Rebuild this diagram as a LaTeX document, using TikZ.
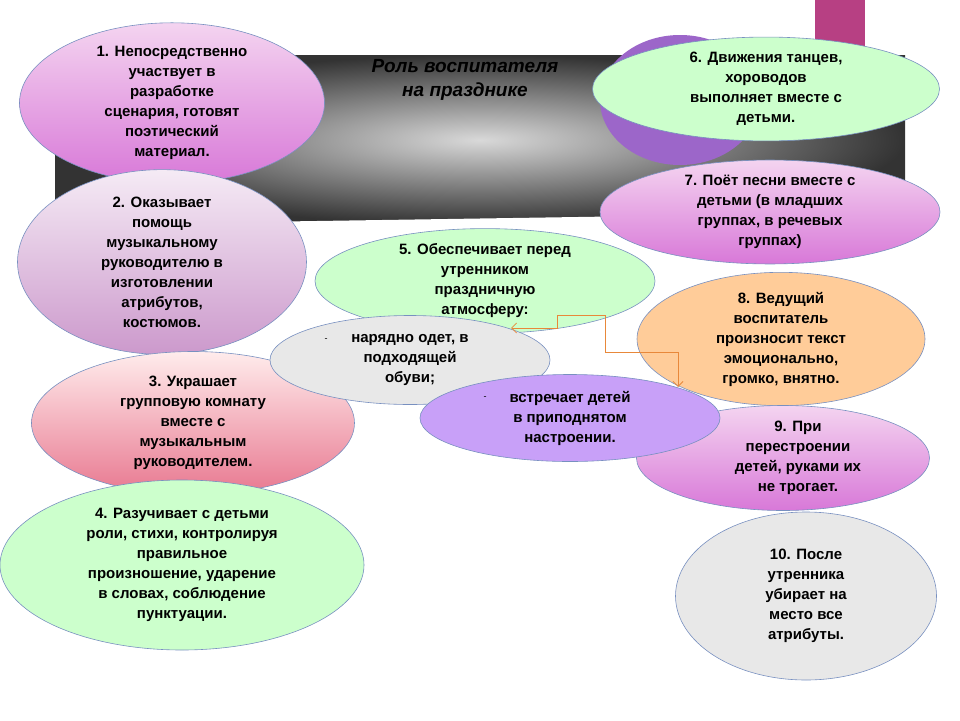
\documentclass[tikz,border=0pt]{standalone}
\usepackage{fontspec}
\setmainfont{Liberation Sans}
\usetikzlibrary{shapes.geometric,arrows.meta}
\definecolor{lgreen}{HTML}{CCFFCC}
\definecolor{lgray}{HTML}{E8E8E8}
\definecolor{edge}{HTML}{7890C0}
\definecolor{conn}{HTML}{E8883A}
\definecolor{pinktop}{HTML}{F4D4F0}
\definecolor{pinkbot}{HTML}{D878D8}
\definecolor{rosebot}{HTML}{E87890}
\definecolor{lilac}{HTML}{C8A0F8}
\tikzset{
  oval/.style={ellipse, draw=edge, line width=0.6pt, align=center,
    font=\fontsize{15}{20}\selectfont\bfseries, inner sep=0pt},
  pinkoval/.style={oval, top color=pinktop, bottom color=pinkbot},
  link/.style={draw=conn, line width=0.8pt, -{Straight Barb[length=5pt,width=10pt]}},
}
\begin{document}
\begin{tikzpicture}[x=1pt,y=-1pt]
\useasboundingbox (0,0) rectangle (960,720);

% background panel
\fill[magenta!70!black!95] (815,0) rectangle (865,58);
\shade[inner color=gray!30, outer color=black!80] (55,55) rectangle (905,225);
\fill[white] (55,225) -- (905,212) -- (905,230) -- (55,230) -- cycle;
\node[align=center, font=\fontsize{19}{24}\selectfont\bfseries\itshape] (title) at (465,80)
  {Роль воспитателя\\на празднике};
\fill[violet!70!blue!60] (680,100) ellipse [x radius=80, y radius=65];

% left column
\node[pinkoval, minimum width=305, minimum height=150] (e1) at (172,103)
  {1. Непосредственно\\участвует в\\разработке\\сценария, готовят\\поэтический\\материал.};
\node[oval, top color=violet!8, bottom color=violet!40, minimum width=289, minimum height=165] (e2) at (162,262)
  {2. Оказывает\\помощь\\музыкальному\\руководителю в\\изготовлении\\атрибутов,\\костюмов.};
\node[oval, top color=pink!30, bottom color=rosebot, minimum width=323, minimum height=143] (e3) at (193,423)
  {3. Украшает\\групповую комнату\\вместе с\\музыкальным\\руководителем.};
\node[oval, fill=lgreen, minimum width=364, minimum height=170] (e4) at (182,565)
  {4. Разучивает с детьми\\роли, стихи, контролируя\\правильное\\произношение, ударение\\в словах, соблюдение\\пунктуации.};

% right column
\node[oval, fill=lgreen, minimum width=347, minimum height=102] (e6) at (766,89)
  {6. Движения танцев,\\хороводов\\выполняет вместе с\\детьми.};
\node[pinkoval, minimum width=340, minimum height=95] (e7) at (770,212)
  {7. Поёт песни вместе с\\детьми (в младших\\группах, в речевых\\группах)};
\node[oval, fill=orange!40, minimum width=288, minimum height=122] (e8) at (781,339)
  {8. Ведущий\\воспитатель\\произносит текст\\эмоционально,\\громко, внятно.};
\node[pinkoval, minimum width=293, minimum height=105] (e9) at (783,458)
  {\hspace*{30pt}9. При\\\hspace*{30pt}перестроении\\\hspace*{30pt}детей, руками их\\\hspace*{30pt}не трогает.};
\node[oval, fill=lgray, minimum width=261, minimum height=168] (e10) at (806,596)
  {10. После\\утренника\\убирает на\\место все\\атрибуты.};

% middle
\node[oval, fill=lgreen, minimum width=340, minimum height=87] (e5) at (485,281)
  {5. Обеспечивает перед\\утренником\\праздничную\\атмосферу:};
\node[oval, fill=lgray, minimum width=280, minimum height=89] (e5a) at (410,360)
  {нарядно одет, в\\подходящей\\обуви;};
\node[font=\small] (d5a) at (326,340) {-};
\node[oval, fill=lilac, minimum width=300, minimum height=87] (e5b) at (570,418)
  {встречает детей\\в приподнятом\\настроении.};
\node[font=\small] (d5b) at (485,398) {-};

% connectors
\coordinate (c0) at (605,315);
\draw[link] (c0) -- (557,315) -- (557,328) -- (511,328);
\draw[link] (c0) -- (605,352) -- (678,352) -- (678,387);
\end{tikzpicture}
\end{document}
